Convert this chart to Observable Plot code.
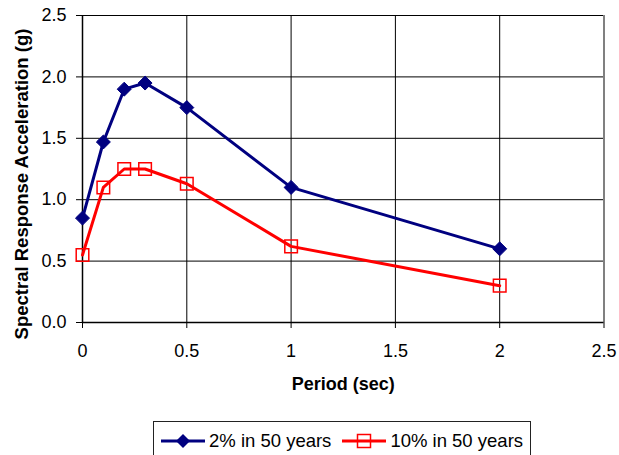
<!DOCTYPE html>
<html>
<head>
<meta charset="utf-8">
<script src="https://cdn.jsdelivr.net/npm/d3@7"></script>
<script src="https://cdn.jsdelivr.net/npm/@observablehq/plot@0.6"></script>
<style>
  html, body { margin: 0; padding: 0; background: #fff; }
  body { width: 619px; height: 455px; position: relative; overflow: hidden; font-family: "Liberation Sans", Arial, sans-serif; }
  #legend { position: absolute; left: 153px; top: 421px; width: 378px; height: 40px; border: 1px solid #222; box-sizing: border-box; display: flex; align-items: center; font-size: 18.5px; color: #000; }
  #legend .item { display: flex; align-items: center; }
  #legend svg { display: block; }
</style>
</head>
<body>
<div id="chart"></div>
<div id="legend"></div>
<script>
const periods = [0, 0.1, 0.2, 0.3, 0.5, 1, 2];
const sa2in50 = [0.85, 1.47, 1.9, 1.95, 1.75, 1.1, 0.6];
const sa10in50 = [0.55, 1.1, 1.25, 1.25, 1.13, 0.62, 0.3];
const seriesNames = ["2% in 50 years", "10% in 50 years"];
const xTicks = [0, 0.5, 1, 1.5, 2, 2.5];
const xTickLabels = ["0", "0.5", "1", "1.5", "2", "2.5"];
const yTicks = [0, 0.5, 1, 1.5, 2, 2.5];
const yTickLabels = ["0.0", "0.5", "1.0", "1.5", "2.0", "2.5"];
const xTitle = "Period (sec)";
const yTitle = "Spectral Response Acceleration (g)";

const blue = "#000080";
const red = "#ff0000";

const d2 = periods.map((p, i) => ({p, v: sa2in50[i]}));
const d10 = periods.map((p, i) => ({p, v: sa10in50[i]}));

const chart = Plot.plot({
  width: 619,
  height: 410,
  marginLeft: 82,
  marginRight: 15.5,
  marginTop: 15,
  marginBottom: 88,
  style: {fontFamily: "Liberation Sans, Arial, sans-serif", fontSize: "18px", color: "#000", background: "#fff"},
  x: {domain: [0, 2.5]},
  y: {domain: [0, 2.5]},
  marks: [
    Plot.ruleX(xTicks.slice(1, -1), {stroke: "#000", strokeWidth: 1}),
    Plot.ruleY(yTicks.slice(1), {stroke: "#000", strokeWidth: 1}),
    Plot.ruleX([2.5], {stroke: "#808080", strokeWidth: 2}),
    Plot.axisX({ticks: xTicks, tickFormat: (d, i) => xTickLabels[i], tickSize: 6, tickPadding: 16, label: null, fontSize: 18, stroke: "#000"}),
    Plot.axisY({ticks: yTicks, tickFormat: (d, i) => yTickLabels[i], tickSize: 6, tickPadding: 10, label: null, fontSize: 18, stroke: "#000"}),
    Plot.ruleX([0], {stroke: "#000", strokeWidth: 1.5}),
    Plot.ruleY([0], {stroke: "#000", strokeWidth: 1.5}),
    Plot.line(d2, {x: "p", y: "v", stroke: blue, strokeWidth: 3}),
    Plot.line(d10, {x: "p", y: "v", stroke: red, strokeWidth: 3}),
    Plot.dot(d2, {x: "p", y: "v", symbol: "diamond2", r: 6.3, fill: blue, stroke: blue, strokeWidth: 1}),
    Plot.dot(d10, {x: "p", y: "v", symbol: "square", r: 7.1, fill: "none", stroke: red, strokeWidth: 1.5}),
    Plot.text([xTitle], {frameAnchor: "bottom", dy: 62, fontWeight: "bold", fontSize: 18, lineAnchor: "middle", textAnchor: "middle", fill: "#000"}),
    Plot.text([yTitle], {frameAnchor: "left", dx: -60.5, dy: 15, rotate: -90, fontWeight: "bold", fontSize: 18.5, lineAnchor: "middle", textAnchor: "middle", fill: "#000"})
  ]
});
document.getElementById("chart").appendChild(chart);

// Legend
const legend = d3.select("#legend");
const swatches = [
  {name: seriesNames[0], color: blue, symbol: "diamond"},
  {name: seriesNames[1], color: red, symbol: "square"}
];
swatches.forEach((s, i) => {
  const item = legend.append("div").attr("class", "item").style("margin-left", i === 0 ? "6px" : "10px");
  const svg = item.append("svg").attr("width", 46).attr("height", 20);
  svg.append("line").attr("x1", 1).attr("x2", 45).attr("y1", 10).attr("y2", 10).attr("stroke", s.color).attr("stroke-width", 3);
  if (s.symbol === "diamond") {
    svg.append("path").attr("d", "M23,3L30,10L23,17L16,10Z").attr("fill", s.color);
  } else {
    svg.append("rect").attr("x", 16.5).attr("y", 3.5).attr("width", 13).attr("height", 13).attr("fill", "none").attr("stroke", s.color).attr("stroke-width", 1.5);
  }
  item.append("span").text(s.name).style("margin-left", "3px");
});
</script>
</body>
</html>
